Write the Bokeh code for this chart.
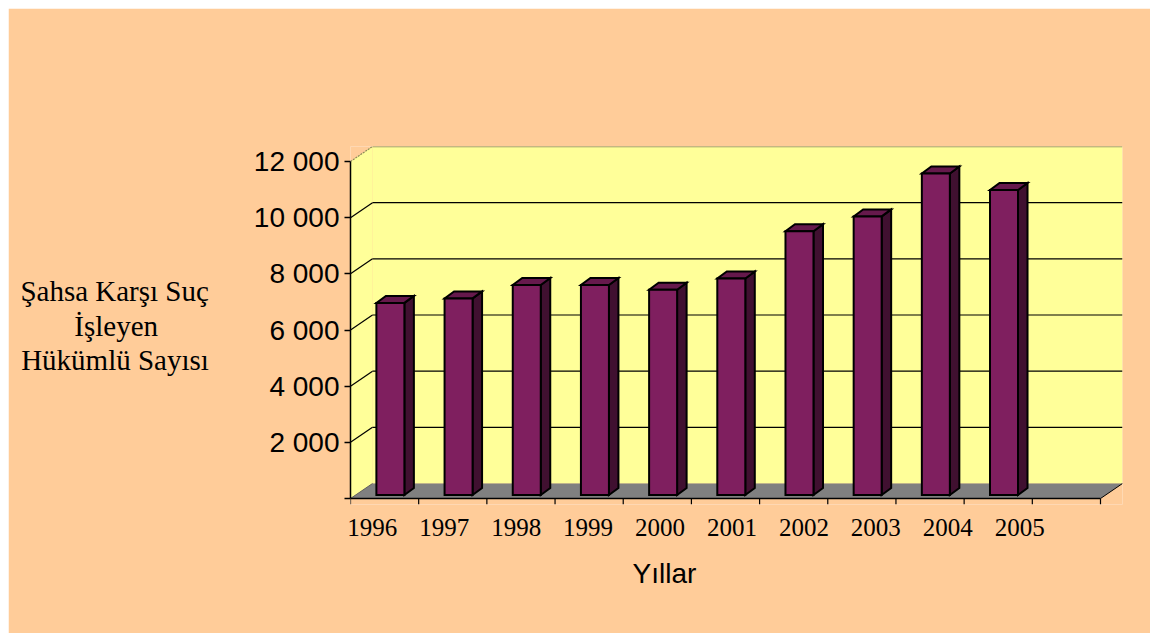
from bokeh.plotting import figure
from bokeh.models import Range1d, FixedTicker, CustomJSTickFormatter, Title
from bokeh.embed import file_html
from bokeh.resources import INLINE

# ---------------- data ----------------
years = ["1996", "1997", "1998", "1999", "2000", "2001", "2002", "2003", "2004", "2005"]
values = [6840, 7000, 7480, 7480, 7310, 7710, 9390, 9920, 11450, 10860]
y_ticks = [0, 2000, 4000, 6000, 8000, 10000, 12000]
y_tick_labels = ["", "2 000", "4 000", "6 000", "8 000", "10 000", "12 000"]
y_title_lines = ["Şahsa Karşı Suç", "İşleyen", "Hükümlü Sayısı"]
x_title = "Yıllar"

# ---------------- layout / style ----------------
W, H = 1142, 625
TICK_PX = 6
B_LEFT, B_RIGHT, B_TOP = 342, 28, 138
PLOT_H = 352                     # from wall top to the floor front edge
B_BOTTOM = H - B_TOP - PLOT_H - TICK_PX
N_CAT = len(years) + 1           # one empty slot at the end, as in the original
CAT_PX = 750.0 / N_CAT
Y_MAX = y_ticks[-1]
Y_PX = 337.0 / Y_MAX             # px per unit
DX = 22.0 / CAT_PX               # depth offset (x)
DY = 15.0 / Y_PX                 # depth offset (y)
X_END = N_CAT + DX
Y_END = PLOT_H / Y_PX
Y_START = -TICK_PX / Y_PX

BAR_OFF = 0.585                  # bar centre inside its category
BAR_HALF = 14.0 / CAT_PX
BAR_BASE = 3.5 / Y_PX
BAR_DX = 9.5 / CAT_PX
BAR_DY = 7.0 / Y_PX

LABEL_X0, LABEL_STEP = 0.32, 1.055   # perspective-shifted label places
CENTER_PAD = "\u00a0" * 7             # centres the short middle title line

PEACH = "#FFCC99"
WALL = "#FFFF99"
FLOOR = "#808080"
FRONT = "#7F1F5F"
TOP = "#66194C"
SIDE = "#401030"

p = figure(width=W, height=H, output_backend="svg", toolbar_location=None,
           x_range=Range1d(0, X_END), y_range=Range1d(Y_START, Y_END),
           min_border_left=B_LEFT, min_border_right=B_RIGHT,
           min_border_top=B_TOP, min_border_bottom=B_BOTTOM)
p.margin = (8, 0, 0, 8)
p.background_fill_color = PEACH
p.border_fill_color = PEACH
p.outline_line_color = None
p.grid.visible = False

# walls
p.patch([DX, N_CAT + DX, N_CAT + DX, DX], [DY, DY, Y_MAX + DY, Y_MAX + DY],
        fill_color=WALL, line_color=None)
p.patch([0, DX, DX, 0], [0, DY, Y_MAX + DY, Y_MAX], fill_color=WALL, line_color=None)

grid_vals = y_ticks[1:-1]
p.segment(x0=[DX] * len(grid_vals), y0=[v + DY for v in grid_vals],
          x1=[N_CAT + DX] * len(grid_vals), y1=[v + DY for v in grid_vals],
          line_color="black", line_width=1.2)
p.segment(x0=[0] * len(grid_vals), y0=grid_vals,
          x1=[DX] * len(grid_vals), y1=[v + DY for v in grid_vals],
          line_color="black", line_width=1.2)
p.line([DX, N_CAT + DX], [Y_MAX + DY, Y_MAX + DY], line_color="#8C8C5A", line_width=1.5)
p.line([0, DX], [Y_MAX, Y_MAX + DY], line_color="#8C8C5A", line_width=1.2, line_dash="2 1")

# floor
p.patch([0, N_CAT, N_CAT + DX, DX], [0, 0, DY, DY], fill_color=FLOOR, line_color=None)
p.line([N_CAT, N_CAT + DX], [0, DY], line_color="black", line_width=1)
p.line([0, DX], [0, DY], line_color="#606060", line_width=1)

# category axis line and boundary ticks
p.line([0, N_CAT], [0, 0], line_color="black", line_width=1.5)
bounds = list(range(N_CAT + 1))
p.segment(x0=bounds, y0=[0] * len(bounds), x1=bounds, y1=[Y_START] * len(bounds),
          line_color="black", line_width=1.2)

# bars
cx = [i + BAR_OFF for i in range(len(values))]
left = [c - BAR_HALF for c in cx]
right = [c + BAR_HALF for c in cx]
tops = [BAR_BASE + v for v in values]

side_xs = [[r, r + BAR_DX, r + BAR_DX, r] for r in right]
side_ys = [[BAR_BASE, BAR_BASE + BAR_DY, t + BAR_DY, t] for t in tops]
top_xs = [[l, r, r + BAR_DX, l + BAR_DX] for l, r in zip(left, right)]
top_ys = [[t, t, t + BAR_DY, t + BAR_DY] for t in tops]

p.patches(side_xs, side_ys, fill_color=SIDE, line_color="black", line_width=2, line_join="miter")
p.patches(top_xs, top_ys, fill_color=TOP, line_color="black", line_width=2, line_join="miter")
p.quad(left=left, right=right, bottom=[BAR_BASE] * len(values), top=tops,
       fill_color=FRONT, line_color="black", line_width=2, line_join="miter")

# y axis
ya = p.yaxis[0]
ya.ticker = FixedTicker(ticks=y_ticks)
ya.major_label_overrides = {t: s for t, s in zip(y_ticks, y_tick_labels)}
ya.bounds = (0, Y_MAX)
ya.axis_line_color = "black"
ya.axis_line_width = 1.5
ya.major_tick_in = 0
ya.major_tick_out = 6
ya.major_tick_line_width = 1.5
ya.minor_tick_line_color = None
ya.major_label_standoff = 5
ya.major_label_text_font = "Liberation Sans"
ya.major_label_text_font_size = "28px"
ya.major_label_text_color = "black"
ya.axis_label = "\n".join([y_title_lines[0], y_title_lines[1] + CENTER_PAD, y_title_lines[2]])
ya.axis_label_orientation = "horizontal"
ya.axis_label_standoff = 42
ya.axis_label_text_font = "Liberation Serif"
ya.axis_label_text_font_size = "29px"
ya.axis_label_text_font_style = "normal"
ya.axis_label_text_color = "black"
ya.axis_label_text_line_height = 1.09

# x axis (year labels only)
xa = p.xaxis[0]
xa.ticker = FixedTicker(ticks=[LABEL_X0 + LABEL_STEP * i for i in range(len(years))])
xa.formatter = CustomJSTickFormatter(args=dict(labels=years), code="return labels[index]")
xa.axis_line_color = None
xa.major_tick_line_color = None
xa.minor_tick_line_color = None
xa.major_tick_in = 0
xa.major_tick_out = 0
xa.major_label_standoff = 14
xa.major_label_text_font = "Liberation Serif"
xa.major_label_text_font_size = "25px"
xa.major_label_text_color = "black"

p.add_layout(Title(text=x_title, align="left", offset=282, standoff=35,
                   text_font="Liberation Sans", text_font_size="28px",
                   text_font_style="normal", text_color="black"), "below")

open("out.html", "w").write(file_html(p, INLINE))
